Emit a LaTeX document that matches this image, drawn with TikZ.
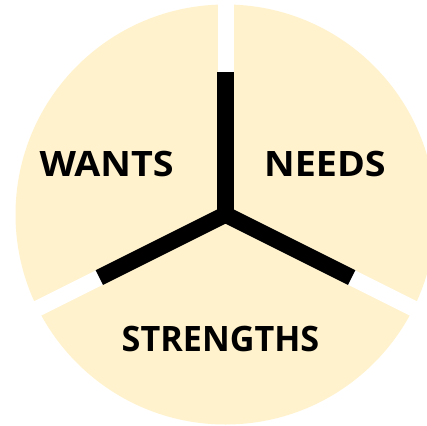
\documentclass[tikz,border=0pt]{standalone}
\usepackage{graphicx}
\usepackage{fontspec}
\setmainfont{Open Sans}
\definecolor{paleyellow}{HTML}{FFF2CC}
\begin{document}
\begin{tikzpicture}[x=1pt,y=-1pt,
  label/.style={inner sep=0pt,font=\fontsize{35}{35}\selectfont\bfseries,text=black},
  gapline/.style={line width=16pt,draw=white,line cap=butt},
  armline/.style={line width=16.5pt,draw=black,line cap=butt,line join=miter}]
\useasboundingbox (0,0) rectangle (427,425);
\coordinate (c) at (225.5,214.5);
\node[circle,fill=paleyellow,minimum size=420pt,inner sep=0pt] (disc) at (c) {};
% white gaps between the slices
\path (c) ++(0,-240) coordinate (gt);
\path (c) ++(-240*0.8944,240*0.4472) coordinate (gl);
\path (c) ++(240*0.8944,240*0.4472) coordinate (gr);
\draw[gapline] (c) -- (gt);
\draw[gapline] (c) -- (gl);
\draw[gapline] (c) -- (gr);
% black Y
\path (c) ++(0,-142.5) coordinate (at);
\path (c) ++(-141*0.8944,141*0.4472) coordinate (al);
\path (c) ++(141*0.8944,141*0.4472) coordinate (ar);
\draw[armline] (al) -- (c) -- (ar);
\draw[armline] (at) -- (c);
% labels
\node[label] (wants) at (106.6,164.2) {\scalebox{1.077}[1]{WANTS}};
\node[label] (needs) at (324.9,164.2) {\scalebox{1.077}[1]{NEEDS}};
\node[label] (strengths) at (220.5,339.2) {\scalebox{0.976}[1]{STRENGTHS}};
\end{tikzpicture}
\end{document}
